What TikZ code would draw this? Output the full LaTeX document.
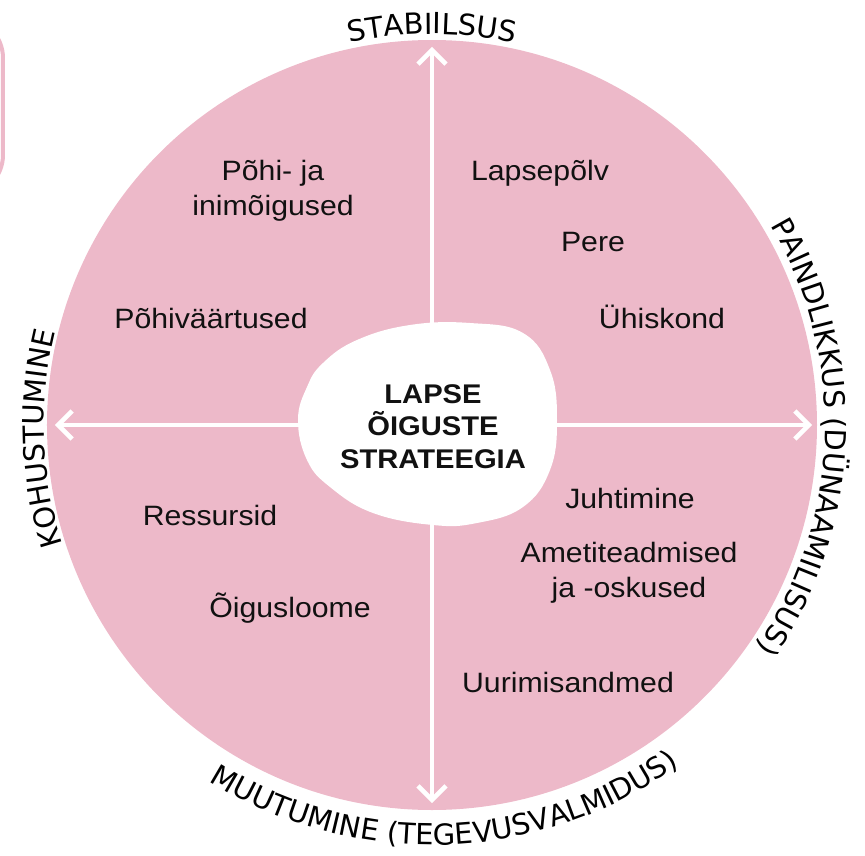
\documentclass[tikz,border=0pt]{standalone}
\usepackage{fontspec}
\setmainfont[FakeStretch=1.08]{Liberation Sans}
\newfontfamily\rimfont{DejaVu Sans}
\usetikzlibrary{arrows.meta,decorations.text}
\definecolor{roosa}{HTML}{EDB9C9}
\definecolor{tint}{HTML}{111111}
\newcommand\rimstyle{\rimfont\fontsize{29}{30}\selectfont}

\begin{document}
\begin{tikzpicture}
[
    x = 1pt, y = 1pt,
    teema/.style = {text = tint, font = \fontsize{28}{35}\selectfont, align = center, anchor = base, inner sep = 0pt},
    telg/.style = {white, line width = 4.5pt, {Straight Barb[length=14pt, width=28pt]}-{Straight Barb[length=14pt, width=28pt]}},
    rim/.style = {decorate, decoration = {text along path, text align = center, text = {#1}}},
]
\path[use as bounding box, clip] (-432,-430) rectangle (433,425);

\draw[roosa, line width = 4pt, rounded corners = 40pt] (-700,407) rectangle (-429,230);
\fill[roosa] (0,0) circle[radius = 385pt];

\coordinate (ylal) at (0,378);
\coordinate (all) at (0,-378);
\coordinate (vasak) at (-377,0);
\coordinate (parem) at (380,0);
\draw[telg] (ylal) -- (all);
\draw[telg] (vasak) -- (parem);

\fill[white] plot[smooth cycle, tension = 0.7] coordinates
    {(-134,5) (-125,38) (-109,62) (-75,85) (-22,100) (38,102) (91,92) (118,55)
     (125,5) (118,-45) (91,-82) (45,-98) (1,-100) (-59,-88) (-102,-62) (-125,-35)};
\node[teema, font = \bfseries\fontsize{27}{32.5}\selectfont] (strateegia) at (1,-43)
    {LAPSE\\ÕIGUSTE\\STRATEEGIA};

\node[teema] (pohiinim) at (-159,210) {Põhi- ja\\inimõigused};
\node[teema] (vaartused) at (-221,97) {Põhiväärtused};
\node[teema] (lapsepolv) at (108,244) {Lapsepõlv};
\node[teema] (pere) at (161,174) {Pere};
\node[teema] (yhiskond) at (230,97) {Ühiskond};
\node[teema] (ressursid) at (-222,-100) {Ressursid};
\node[teema] (oigusloome) at (-142,-192) {Õigusloome};
\node[teema] (juhtimine) at (198,-83) {Juhtimine};
\node[teema] (oskused) at (197,-172) {Ametiteadmised\\ja -oskused};
\node[teema] (uurimine) at (136,-267) {Uurimisandmed};

\path[rim = {|\rimstyle|STABIILSUS}] (180:391pt) arc[start angle = 180, end angle = 0, radius = 391pt];
\path[rim = {|\rimstyle|PAINDLIKKUS (DÜNAAMILISUS)}] (88:393pt) arc[start angle = 88, end angle = -92, radius = 393pt];
\path[rim = {|\rimstyle|KOHUSTUMINE}] (272:388pt) arc[start angle = 272, end angle = 92, radius = 388pt];
\path[rim = {|\rimstyle|MUUTUMINE (TEGEVUSVALMIDUS)}] (182:420pt) arc[start angle = 182, end angle = 362, radius = 420pt];
\end{tikzpicture}
\end{document}
